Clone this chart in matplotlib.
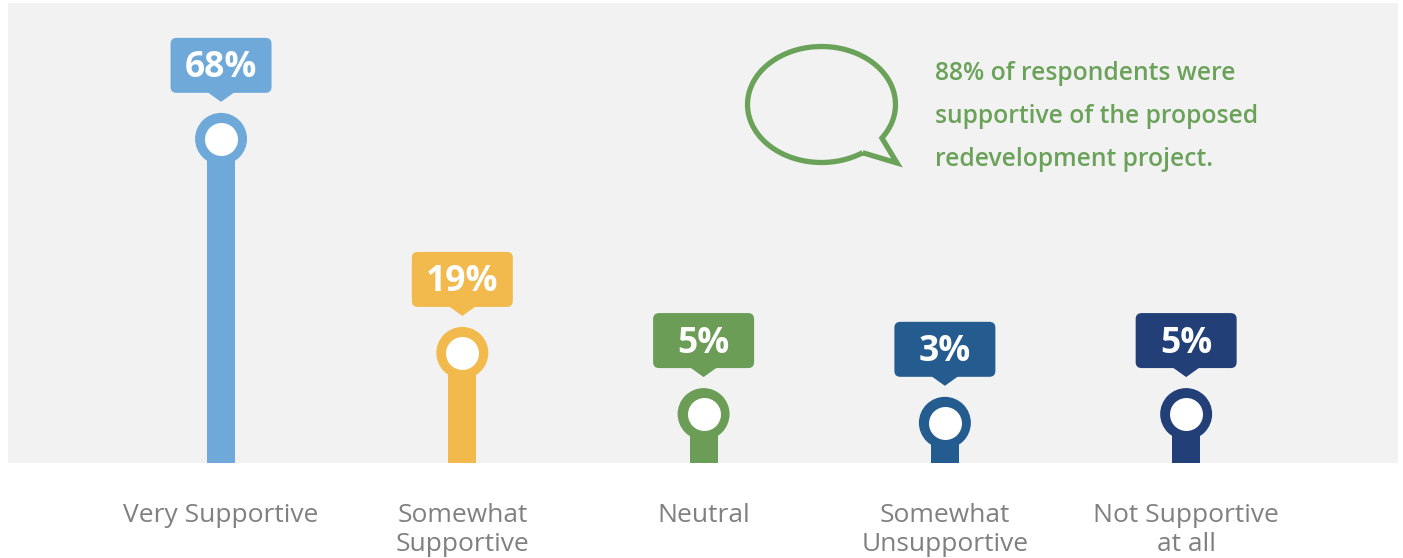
import numpy as np
import matplotlib.pyplot as plt
import matplotlib.transforms as mtransforms
from matplotlib.patches import FancyBboxPatch, Polygon, PathPatch
from matplotlib.path import Path

categories = ["Very Supportive", "Somewhat\nSupportive", "Neutral",
              "Somewhat\nUnsupportive", "Not Supportive\nat all"]
values = [68, 19, 5, 3, 5]
value_labels = ["68%", "19%", "5%", "3%", "5%"]
colors = ["#6fa9da", "#f2b94c", "#6b9d57", "#245c8f", "#223f78"]
note_lines = ["88% of respondents were",
              "supportive of the proposed",
              "redevelopment project."]

W, H = 1403, 558
GREEN = "#6ba25a"

fig = plt.figure(figsize=(W / 100, H / 100), dpi=100)
fig.patch.set_facecolor("white")

ax = fig.add_axes([8 / W, 1 - 463 / H, 1390 / W, 460 / H])
ax.set_facecolor("#f2f2f2")
base = -6.2
ax.set_xlim(-0.883, 4.878)
ax.set_ylim(base, 99.1)
for s in ax.spines.values():
    s.set_visible(False)
ax.set_xticks([])
ax.set_yticks([])

x = np.arange(len(values))
# stems, then ring + white hole on top
ax.bar(x, np.array(values) - base, bottom=base, width=0.116,
       color=colors, zorder=2)
ax.scatter(x, values, s=1400, c=colors, linewidths=0, zorder=3)
ax.scatter(x, values, s=564, c="white", linewidths=0, zorder=4)

# value callouts, sized in pixels around each point
for xi, v, lab, c in zip(x, values, value_labels, colors):
    tr = mtransforms.ScaledTranslation(xi, v, ax.transData)
    box = FancyBboxPatch((-50.5, 46), 101, 55,
                         boxstyle="round,pad=0,rounding_size=6",
                         fc=c, ec="none", transform=tr, zorder=5, clip_on=False)
    ax.add_patch(box)
    ax.add_patch(Polygon([(-14, 47), (14, 47), (0, 37)], closed=True,
                         fc=c, ec="none", transform=tr, zorder=5, clip_on=False))
    ax.text(0, 61.5, lab, transform=tr, ha="center", va="baseline",
            color="white", fontsize=25.5, fontweight="bold",
            family="Open Sans", zorder=6)

# category names under the panel
for xi, name in zip(x, categories):
    ax.text(xi, -0.088, name, transform=ax.get_xaxis_transform(),
            ha="center", va="top", color="#808080", fontsize=19,
            family="Open Sans", linespacing=1.17, clip_on=False)

# speech bubble and note, in pixel coordinates
deco = fig.add_axes([0, 0, 1, 1], zorder=5)
deco.set_xlim(0, W)
deco.set_ylim(H, 0)
deco.axis("off")
deco.patch.set_alpha(0)

cx, cy, a, b = 821.5, 104.5, 74, 58
t = np.radians(np.linspace(56.2, 395.3, 200))
pts = list(zip(cx + a * np.cos(t), cy + b * np.sin(t)))
pts += [(897, 163), pts[0]]
bubble = PathPatch(Path(pts), fc="none", ec=GREEN, lw=3.8, joinstyle="miter")
deco.add_patch(bubble)

for i, line in enumerate(note_lines):
    deco.text(935, 80 + 43 * i, line, ha="left", va="baseline", color=GREEN,
              fontsize=17.7, fontweight="semibold", family="Open Sans")

fig.savefig("out.png", dpi=100)
